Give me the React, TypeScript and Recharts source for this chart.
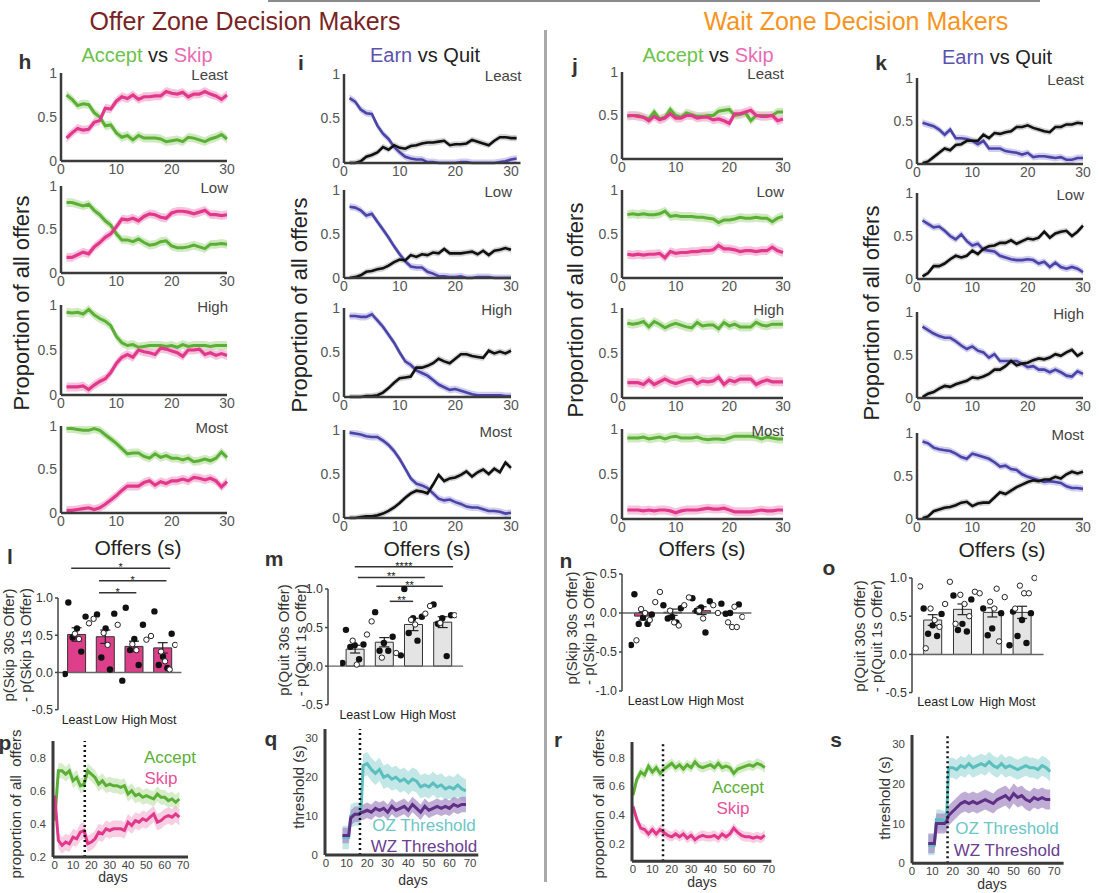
import React from "react";
import {
  ComposedChart,
  Line,
  Area,
  Bar,
  Scatter,
  ErrorBar,
  XAxis,
  YAxis,
  ReferenceLine,
} from "recharts";

const FONT = '"Liberation Sans", Arial, Helvetica, sans-serif';
const AXIS = "#3a3a3a";
const GREEN = "#5aaf35";
const GREEN_BAND = "#c6e4b2";
const PINK = "#e2388c";
const PINK_BAND = "#f5b9d7";
const BLUE = "#4a44a6";
const BLUE_BAND = "#c6c1ea";
const BLACK = "#111111";
const GRAY_BAND = "#c4c4c4";
const TEAL = "#5cbfbf";
const TEAL_BAND = "#a9dbdb";
const PURPLE = "#5f2f86";
const PURPLE_BAND = "#a58ac4";

// ---- offers (s) on the x axis of the small panels
const offers = [1, 2, 3, 4, 5, 6, 7, 8, 9, 10, 11, 12, 13, 14, 15, 16, 17, 18, 19, 20, 21, 22, 23, 24, 25, 26, 27, 28, 29, 30];
const offers31 = [1, 2, 3, 4, 5, 6, 7, 8, 9, 10, 11, 12, 13, 14, 15, 16, 17, 18, 19, 20, 21, 22, 23, 24, 25, 26, 27, 28, 29, 30, 31];

// ---- h: offer zone, accept vs skip
const ozAcceptLeast = [0.75, 0.7, 0.63, 0.65, 0.64, 0.55, 0.5, 0.4, 0.41, 0.32, 0.27, 0.29, 0.24, 0.29, 0.26, 0.26, 0.26, 0.25, 0.22, 0.23, 0.24, 0.22, 0.27, 0.26, 0.24, 0.22, 0.25, 0.27, 0.3, 0.25];
const ozSkipLeast = [0.26, 0.32, 0.37, 0.35, 0.36, 0.44, 0.46, 0.6, 0.59, 0.68, 0.73, 0.71, 0.75, 0.7, 0.73, 0.73, 0.74, 0.74, 0.79, 0.77, 0.76, 0.78, 0.73, 0.76, 0.76, 0.79, 0.76, 0.74, 0.7, 0.75];
const ozAcceptLow = [0.81, 0.81, 0.79, 0.77, 0.79, 0.72, 0.67, 0.6, 0.55, 0.45, 0.38, 0.38, 0.36, 0.39, 0.35, 0.32, 0.33, 0.36, 0.37, 0.31, 0.29, 0.29, 0.3, 0.32, 0.3, 0.28, 0.33, 0.33, 0.34, 0.33];
const ozSkipLow = [0.18, 0.18, 0.21, 0.24, 0.22, 0.3, 0.35, 0.41, 0.45, 0.53, 0.62, 0.61, 0.63, 0.6, 0.65, 0.68, 0.67, 0.64, 0.63, 0.69, 0.71, 0.71, 0.7, 0.68, 0.7, 0.72, 0.67, 0.67, 0.66, 0.67];
const ozAcceptHigh = [0.92, 0.91, 0.92, 0.9, 0.95, 0.89, 0.85, 0.82, 0.77, 0.65, 0.58, 0.55, 0.56, 0.53, 0.54, 0.55, 0.55, 0.55, 0.54, 0.55, 0.53, 0.56, 0.54, 0.55, 0.55, 0.55, 0.54, 0.55, 0.55, 0.55];
const ozSkipHigh = [0.09, 0.09, 0.09, 0.1, 0.06, 0.11, 0.15, 0.18, 0.25, 0.35, 0.42, 0.45, 0.42, 0.5, 0.48, 0.47, 0.45, 0.52, 0.51, 0.49, 0.47, 0.43, 0.5, 0.5, 0.51, 0.45, 0.47, 0.44, 0.46, 0.44];
const ozAcceptMost = [0.97, 0.97, 0.96, 0.95, 0.95, 0.97, 0.95, 0.9, 0.85, 0.8, 0.74, 0.68, 0.69, 0.69, 0.65, 0.63, 0.68, 0.64, 0.66, 0.63, 0.63, 0.61, 0.63, 0.59, 0.6, 0.62, 0.6, 0.63, 0.7, 0.64];
const ozSkipMost = [0.03, 0.03, 0.04, 0.05, 0.06, 0.04, 0.06, 0.1, 0.15, 0.2, 0.26, 0.31, 0.31, 0.31, 0.35, 0.37, 0.32, 0.36, 0.34, 0.37, 0.37, 0.39, 0.37, 0.41, 0.4, 0.38, 0.4, 0.37, 0.3, 0.36];

// ---- i: offer zone, earn vs quit
const ozEarnLeast = [0.73, 0.69, 0.6, 0.56, 0.55, 0.42, 0.33, 0.27, 0.18, 0.12, 0.07, 0.05, 0.04, 0.04, 0.01, 0.01, 0, 0, 0, 0, 0.01, 0.01, 0, 0, 0, 0, 0, 0.01, 0.02, 0.04, 0.05];
const ozQuitLeast = [0, 0, 0.02, 0.07, 0.09, 0.12, 0.18, 0.15, 0.2, 0.17, 0.16, 0.19, 0.2, 0.22, 0.23, 0.23, 0.24, 0.25, 0.2, 0.21, 0.21, 0.22, 0.26, 0.24, 0.22, 0.2, 0.25, 0.29, 0.29, 0.28, 0.28];
const ozEarnLow = [0.81, 0.8, 0.77, 0.71, 0.73, 0.64, 0.55, 0.46, 0.36, 0.27, 0.19, 0.13, 0.12, 0.12, 0.07, 0.05, 0.02, 0.02, 0.01, 0.01, 0.02, 0, 0, 0.01, 0.01, 0.01, 0, 0, 0, 0];
const ozQuitLow = [0, 0.01, 0.03, 0.07, 0.08, 0.1, 0.11, 0.14, 0.18, 0.21, 0.2, 0.26, 0.24, 0.27, 0.26, 0.29, 0.28, 0.33, 0.28, 0.28, 0.28, 0.29, 0.3, 0.27, 0.31, 0.26, 0.31, 0.32, 0.34, 0.32];
const ozEarnHigh = [0.91, 0.91, 0.9, 0.9, 0.93, 0.86, 0.79, 0.7, 0.61, 0.5, 0.4, 0.36, 0.3, 0.27, 0.24, 0.19, 0.14, 0.11, 0.08, 0.09, 0.07, 0.05, 0.03, 0.02, 0.02, 0.02, 0.02, 0.02, 0.01, 0.01];
const ozQuitHigh = [0, 0, 0, 0.01, 0.01, 0.02, 0.05, 0.1, 0.16, 0.21, 0.22, 0.23, 0.33, 0.33, 0.35, 0.38, 0.43, 0.4, 0.38, 0.43, 0.48, 0.48, 0.46, 0.45, 0.44, 0.52, 0.49, 0.51, 0.49, 0.52];
const ozEarnMost = [0.97, 0.96, 0.95, 0.93, 0.92, 0.92, 0.88, 0.83, 0.76, 0.67, 0.56, 0.45, 0.39, 0.37, 0.34, 0.28, 0.22, 0.2, 0.21, 0.18, 0.16, 0.13, 0.12, 0.12, 0.1, 0.08, 0.08, 0.07, 0.05, 0.06];
const ozQuitMost = [0, 0, 0.01, 0.02, 0.02, 0.03, 0.05, 0.08, 0.12, 0.17, 0.23, 0.28, 0.31, 0.3, 0.28, 0.38, 0.49, 0.42, 0.45, 0.46, 0.49, 0.53, 0.47, 0.52, 0.55, 0.5, 0.56, 0.52, 0.63, 0.57];

// ---- j: wait zone, accept vs skip
const wzAcceptLeast = [0.49, 0.5, 0.5, 0.48, 0.46, 0.54, 0.46, 0.48, 0.57, 0.5, 0.48, 0.53, 0.51, 0.49, 0.49, 0.5, 0.5, 0.55, 0.56, 0.57, 0.5, 0.51, 0.53, 0.44, 0.5, 0.5, 0.5, 0.5, 0.54, 0.54];
const wzSkipLeast = [0.5, 0.5, 0.49, 0.48, 0.44, 0.49, 0.45, 0.47, 0.52, 0.47, 0.47, 0.5, 0.5, 0.47, 0.48, 0.48, 0.45, 0.46, 0.44, 0.41, 0.52, 0.52, 0.54, 0.56, 0.5, 0.49, 0.49, 0.5, 0.44, 0.46];
const wzAcceptLow = [0.72, 0.73, 0.72, 0.73, 0.72, 0.72, 0.73, 0.76, 0.7, 0.71, 0.7, 0.7, 0.7, 0.69, 0.69, 0.68, 0.67, 0.63, 0.66, 0.66, 0.67, 0.69, 0.68, 0.68, 0.69, 0.68, 0.68, 0.64, 0.68, 0.7];
const wzSkipLow = [0.27, 0.26, 0.27, 0.26, 0.27, 0.27, 0.28, 0.23, 0.3, 0.28, 0.29, 0.29, 0.3, 0.3, 0.31, 0.31, 0.32, 0.37, 0.33, 0.33, 0.32, 0.3, 0.31, 0.31, 0.3, 0.31, 0.31, 0.35, 0.31, 0.29];
const wzAcceptHigh = [0.83, 0.82, 0.83, 0.85, 0.79, 0.85, 0.82, 0.78, 0.81, 0.83, 0.81, 0.79, 0.78, 0.84, 0.8, 0.81, 0.81, 0.77, 0.84, 0.8, 0.82, 0.79, 0.79, 0.79, 0.84, 0.81, 0.8, 0.82, 0.82, 0.82];
const wzSkipHigh = [0.17, 0.17, 0.17, 0.15, 0.2, 0.15, 0.18, 0.21, 0.18, 0.16, 0.18, 0.2, 0.21, 0.16, 0.19, 0.18, 0.19, 0.23, 0.15, 0.2, 0.18, 0.21, 0.21, 0.21, 0.15, 0.18, 0.2, 0.18, 0.18, 0.18];
const wzAcceptMost = [0.9, 0.9, 0.9, 0.91, 0.89, 0.9, 0.91, 0.89, 0.91, 0.92, 0.9, 0.9, 0.9, 0.91, 0.89, 0.88, 0.89, 0.89, 0.88, 0.9, 0.92, 0.92, 0.92, 0.92, 0.91, 0.89, 0.91, 0.9, 0.89, 0.89];
const wzSkipMost = [0.1, 0.1, 0.1, 0.09, 0.1, 0.09, 0.1, 0.1, 0.09, 0.07, 0.09, 0.1, 0.1, 0.1, 0.11, 0.12, 0.11, 0.11, 0.12, 0.1, 0.08, 0.08, 0.08, 0.08, 0.09, 0.1, 0.09, 0.09, 0.1, 0.1];

// ---- k: wait zone, earn vs quit
const wzEarnLeast = [0.48, 0.46, 0.44, 0.4, 0.34, 0.4, 0.3, 0.3, 0.29, 0.27, 0.23, 0.27, 0.18, 0.18, 0.18, 0.15, 0.14, 0.13, 0.11, 0.13, 0.08, 0.09, 0.09, 0.08, 0.07, 0.08, 0.05, 0.05, 0.07, 0.07];
const wzQuitLeast = [0.01, 0.03, 0.08, 0.13, 0.18, 0.16, 0.22, 0.23, 0.27, 0.27, 0.27, 0.34, 0.3, 0.36, 0.35, 0.37, 0.38, 0.43, 0.43, 0.45, 0.42, 0.4, 0.38, 0.37, 0.43, 0.43, 0.46, 0.46, 0.48, 0.47];
const wzEarnLow = [0.68, 0.64, 0.6, 0.61, 0.56, 0.5, 0.46, 0.52, 0.44, 0.39, 0.41, 0.34, 0.33, 0.32, 0.27, 0.25, 0.23, 0.22, 0.22, 0.23, 0.22, 0.18, 0.2, 0.14, 0.19, 0.14, 0.12, 0.14, 0.12, 0.08];
const wzQuitLow = [0.03, 0.07, 0.15, 0.15, 0.18, 0.23, 0.27, 0.25, 0.27, 0.33, 0.29, 0.35, 0.38, 0.39, 0.42, 0.42, 0.45, 0.41, 0.44, 0.47, 0.46, 0.48, 0.55, 0.48, 0.53, 0.55, 0.56, 0.5, 0.55, 0.62];
const wzEarnHigh = [0.83, 0.79, 0.75, 0.72, 0.7, 0.7, 0.66, 0.61, 0.57, 0.6, 0.55, 0.53, 0.47, 0.51, 0.43, 0.43, 0.43, 0.43, 0.4, 0.36, 0.37, 0.33, 0.33, 0.3, 0.33, 0.3, 0.26, 0.25, 0.31, 0.28];
const wzQuitHigh = [0.01, 0.05, 0.07, 0.11, 0.14, 0.13, 0.16, 0.18, 0.2, 0.24, 0.23, 0.25, 0.28, 0.33, 0.33, 0.37, 0.43, 0.38, 0.4, 0.41, 0.44, 0.46, 0.45, 0.47, 0.51, 0.49, 0.53, 0.56, 0.49, 0.53];
const wzEarnMost = [0.9, 0.88, 0.83, 0.81, 0.8, 0.79, 0.76, 0.72, 0.7, 0.76, 0.74, 0.72, 0.7, 0.66, 0.61, 0.62, 0.58, 0.57, 0.52, 0.49, 0.47, 0.45, 0.43, 0.44, 0.43, 0.42, 0.38, 0.36, 0.36, 0.35];
const wzQuitMost = [0.01, 0.03, 0.09, 0.11, 0.13, 0.14, 0.16, 0.19, 0.2, 0.15, 0.18, 0.19, 0.19, 0.25, 0.31, 0.29, 0.33, 0.37, 0.4, 0.43, 0.45, 0.44, 0.46, 0.46, 0.49, 0.47, 0.52, 0.55, 0.53, 0.55];

// ---- l-o: bar panels
const categories = ["Least", "Low", "High", "Most"];
const lMeans = [0.51, 0.48, 0.35, 0.33];
const lSem = [0.09, 0.09, 0.07, 0.07];
const lFilled = [[0.94, 0.75, 0.59, 0.47, 0.28, -0.02], [0.78, 0.79, 0.59, 0.2, 0.04], [0.87, 0.64, 0.45, 0.3, 0.1, -0.11], [0.82, 0.52, 0.21, 0.1, 0.06]];
const lOpen = [[0.66, 0.52, 0.45], [0.72, 0.64, 0.53, 0.37], [0.44, 0.38, 0.3], [0.49, 0.37, 0.28, 0.15, 0.04]];
const mMeans = [0.22, 0.31, 0.54, 0.57];
const mSem = [0.05, 0.06, 0.08, 0.07];
const mFilled = [[0.47, 0.28, 0.27, 0.25, 0.09, 0.04], [0.7, 0.38, 0.3, 0.2, 0.2], [1.0, 0.64, 0.62, 0.43, 0.33, 0.14], [0.8, 0.66, 0.62, 0.55, 0.13]];
const mOpen = [[0.41, 0.33, 0.02], [0.58, 0.17, 0.11], [0.68, 0.6, 0.54], [0.78, 0.66, 0.56]];
const nMeans = [-0.04, 0.01, 0.03, 0.0];
const nSem = [0.05, 0.04, 0.05, 0.03];
const nFilled = [[0.24, -0.02, -0.06, -0.14, -0.14, -0.41], [0.1, 0.06, -0.05, -0.07, -0.12], [0.19, 0.15, 0.07, 0.03, -0.25], [0.12, 0.11, 0.0, -0.01]];
const nOpen = [[0.14, 0.05, 0.0, -0.09, -0.35], [0.27, 0.1, 0.03, -0.12, -0.16], [0.2, 0.1, 0.03, -0.07], [0.08, 0.0, -0.05, -0.12, -0.18, -0.18]];
const oMeans = [0.45, 0.59, 0.55, 0.55];
const oSem = [0.07, 0.07, 0.06, 0.08];
const oFilled = [[0.6, 0.53, 0.38, 0.27, 0.24], [0.77, 0.72, 0.4, 0.32, 0.3], [0.6, 0.54, 0.34, 0.25], [0.56, 0.54, 0.45, 0.24, 0.15, 0.12]];
const oOpen = [[0.89, 0.66, 0.6, 0.45, 0.36, 0.08], [0.95, 0.82, 0.78, 0.66, 0.5, 0.4], [0.86, 0.8, 0.75, 0.69, 0.6, 0.17], [1.0, 0.9, 0.8, 0.8, 0.6]];

// significance brackets: [from, to, height, stars]
const lSig: [number, number, number, string][] = [[0.3, 3.75, 1.4, "*"], [1.27, 3.62, 1.23, "*"], [1.27, 2.57, 1.07, "*"]];
const mSig: [number, number, number, string][] = [[0.5, 3.87, 1.29, "****"], [0.61, 2.9, 1.15, "**"], [1.24, 3.52, 1.035, "**"], [1.7, 2.5, 0.84, "**"]];

// ---- p-s: across days
const days = [0, 2, 4, 6, 8, 10, 12, 14, 16, 18, 20, 22, 24, 26, 28, 30, 32, 34, 36, 38, 40, 42, 44, 46, 48, 50, 52, 54, 56, 58, 60, 62, 64, 66, 68];
const pAccept = [0.42, 0.72, 0.72, 0.7, 0.72, 0.66, 0.68, 0.63, 0.64, 0.72, 0.7, 0.68, 0.64, 0.66, 0.63, 0.64, 0.63, 0.63, 0.62, 0.63, 0.58, 0.6, 0.57, 0.58, 0.56, 0.57, 0.56, 0.55, 0.58, 0.56, 0.56, 0.54, 0.55, 0.53, 0.55];
const pSkip = [0.57, 0.3, 0.27, 0.29, 0.28, 0.32, 0.31, 0.35, 0.36, 0.28, 0.29, 0.31, 0.35, 0.34, 0.37, 0.36, 0.37, 0.37, 0.37, 0.36, 0.41, 0.39, 0.42, 0.41, 0.43, 0.42, 0.44, 0.46, 0.41, 0.42, 0.44, 0.45, 0.44, 0.46, 0.44];
const rAccept = [0.54, 0.65, 0.7, 0.68, 0.74, 0.7, 0.73, 0.69, 0.72, 0.74, 0.76, 0.73, 0.75, 0.72, 0.75, 0.73, 0.77, 0.74, 0.73, 0.74, 0.75, 0.73, 0.76, 0.73, 0.74, 0.73, 0.69, 0.72, 0.73, 0.74, 0.75, 0.74, 0.76, 0.75, 0.73];
const rSkip = [0.46, 0.37, 0.31, 0.3, 0.27, 0.3, 0.27, 0.3, 0.28, 0.26, 0.25, 0.27, 0.25, 0.27, 0.24, 0.26, 0.23, 0.25, 0.26, 0.25, 0.25, 0.26, 0.24, 0.27, 0.25, 0.27, 0.31, 0.28, 0.26, 0.25, 0.25, 0.24, 0.25, 0.24, 0.26];
const thrDays = [8, 10, 11, 12, 14, 16, 17, 18, 20, 22, 24, 26, 28, 30, 32, 34, 36, 38, 40, 42, 44, 46, 48, 50, 52, 54, 56, 58, 60, 62, 64, 66, 68];
const qOZ = [4.5, 4.5, 4.5, 10, 10.5, 10.5, 11, 23, 23.5, 22, 21, 22, 20, 20.5, 19.5, 20, 19, 19.5, 18.5, 19.5, 19, 17.5, 18, 17.5, 18.5, 17.5, 18, 17, 17.5, 17, 18, 17, 16.5];
const qWZ = [5, 5, 5, 9.5, 10.5, 10.5, 11, 11, 11.5, 11, 12, 11.5, 12, 11, 12.5, 11.5, 12, 12.5, 11.5, 13, 12, 11, 12.5, 11.5, 12, 12.5, 12, 12.5, 12, 13, 12.5, 13, 13];
const sOZ = [4.5, 4.5, 4.5, 11, 11, 10.5, 11, 24, 24, 23.5, 24.5, 24, 25, 24, 24.5, 25, 24.5, 25.5, 24.5, 24, 25, 24, 24.5, 24, 23.5, 24, 24.5, 24, 24, 23.5, 24.5, 24, 23];
const sWZ = [5, 5, 5, 10, 10, 10, 10.5, 12, 13, 14, 15, 15.5, 15, 15.5, 15, 15.5, 16, 15.5, 15, 16, 16.5, 17, 16, 17.5, 16.5, 17, 16, 15.5, 16.5, 16, 16.5, 16, 16];

const clamp = (v: number, lo: number, hi: number) => Math.min(hi, Math.max(lo, v));

function Txt({ x, y, size, color = "#222", bold = false, rotate = false, children }: any) {
  return (
    <div
      style={{
        position: "absolute",
        left: x,
        top: y,
        transform: `translate(-50%, -50%)${rotate ? " rotate(-90deg)" : ""}`,
        fontSize: size,
        color,
        fontWeight: bold ? 700 : 400,
        whiteSpace: "pre",
        lineHeight: 1,
      }}
    >
      {children}
    </div>
  );
}

type OfferSpec = {
  left: number;
  top: number;
  width: number;
  height: number;
  xMax: number;
  t: number[];
  a: number[];
  b: number[];
  kind: "as" | "eq";
  label: string;
};

function OfferPanel({ p }: { p: OfferSpec }) {
  const ML = 40, MT = 14, MR = 16, MB = 22;
  const as = p.kind === "as";
  const ea = as ? 0.05 : 0.04;
  const eb = as ? 0.05 : 0.035;
  const rows = p.t.map((t, i) => ({
    t,
    a: p.a[i],
    b: p.b[i],
    aBand: [clamp(p.a[i] - ea, 0, 1), clamp(p.a[i] + ea, 0, 1)],
    bBand: [clamp(p.b[i] - eb, 0, 1), clamp(p.b[i] + eb, 0, 1)],
  }));
  const W = p.width + ML + MR;
  const H = p.height + MT + MB;
  return (
    <div style={{ position: "absolute", left: p.left - ML, top: p.top - MT, width: W, height: H }}>
      <ComposedChart width={W} height={H} data={rows} margin={{ top: MT, right: MR, left: 0, bottom: 0 }}>
        <XAxis
          dataKey="t"
          type="number"
          domain={[0, p.xMax]}
          ticks={[0, 10, 20, 30]}
          interval={0}
          height={MB}
          tickSize={0}
          tickMargin={3}
          tickLine={false}
          axisLine={{ stroke: AXIS, strokeWidth: 2.5 }}
          tick={{ fontSize: 14, fill: "#555" }}
        />
        <YAxis
          type="number"
          domain={[0, 1]}
          ticks={[0, 0.5, 1]}
          interval={0}
          width={ML}
          tickSize={0}
          tickMargin={4}
          tickLine={false}
          axisLine={{ stroke: AXIS, strokeWidth: 2.5 }}
          tick={{ fontSize: 14, fill: "#555" }}
        />
        <Area type="linear" dataKey="aBand" stroke="none" fill={as ? GREEN_BAND : BLUE_BAND} fillOpacity={0.8} isAnimationActive={false} />
        <Line type="linear" dataKey="a" stroke={as ? GREEN : BLUE} strokeWidth={as ? 3 : 2.6} dot={false} isAnimationActive={false} />
        <Area type="linear" dataKey="bBand" stroke="none" fill={as ? PINK_BAND : GRAY_BAND} fillOpacity={as ? 0.85 : 0.75} isAnimationActive={false} />
        <Line type="linear" dataKey="b" stroke={as ? PINK : BLACK} strokeWidth={as ? 3.2 : 2.6} dot={false} isAnimationActive={false} />
      </ComposedChart>
      <div style={{ position: "absolute", right: MR - 1, top: MT - 6, fontSize: 15, color: "#444", lineHeight: 1 }}>{p.label}</div>
    </div>
  );
}

type TSSeries = { v: number[]; err: number; color: string; band: string };
type TSSpec = {
  left: number;
  top: number;
  width: number;
  height: number;
  xDomain: [number, number];
  yDomain: [number, number];
  yTicks: number[];
  decimals: number;
  t: number[];
  series: TSSeries[];
  vline: number;
};

function DaysPanel({ p }: { p: TSSpec }) {
  const ML = 44, MT = 6, MR = 8, MB = 20;
  const rows = p.t.map((t, i) => {
    const r: any = { t };
    p.series.forEach((s, k) => {
      r["v" + k] = s.v[i];
      r["b" + k] = [s.v[i] - s.err, s.v[i] + s.err];
    });
    return r;
  });
  const W = p.width + ML + MR;
  const H = p.height + MT + MB;
  return (
    <div style={{ position: "absolute", left: p.left - ML, top: p.top - MT, width: W, height: H }}>
      <ComposedChart width={W} height={H} data={rows} margin={{ top: MT, right: MR, left: 0, bottom: 0 }}>
        <XAxis
          dataKey="t"
          type="number"
          domain={p.xDomain}
          ticks={[0, 10, 20, 30, 40, 50, 60, 70]}
          interval={0}
          height={MB}
          tickSize={0}
          tickMargin={4}
          tickLine={false}
          axisLine={{ stroke: AXIS, strokeWidth: 3 }}
          tick={{ fontSize: 11.5, fill: "#444" }}
        />
        <YAxis
          type="number"
          domain={p.yDomain}
          ticks={p.yTicks}
          interval={0}
          width={ML}
          tickSize={0}
          tickMargin={7}
          tickLine={false}
          axisLine={{ stroke: AXIS, strokeWidth: 3 }}
          tick={{ fontSize: 11.5, fill: "#444" }}
          tickFormatter={(v: number) => v.toFixed(p.decimals)}
        />
        {p.series.map((s, k) => (
          <Area key={"b" + k} type="linear" dataKey={"b" + k} stroke="none" fill={s.band} fillOpacity={0.7} isAnimationActive={false} />
        ))}
        {p.series.map((s, k) => (
          <Line key={"v" + k} type="linear" dataKey={"v" + k} stroke={s.color} strokeWidth={3} dot={false} isAnimationActive={false} />
        ))}
        <ReferenceLine x={p.vline} stroke="#111" strokeWidth={2.5} strokeDasharray="2 3" />
      </ComposedChart>
    </div>
  );
}

type BarSpec = {
  left: number;
  top: number;
  width: number;
  height: number;
  domain: [number, number];
  ticks: number[];
  padL: number;
  padR: number;
  means: number[];
  sem: number[];
  filled: number[][];
  open: number[][];
  fill: string;
  sig: [number, number, number, string][];
};

const JITTER = [-0.3, 0.3, 0, -0.15, 0.15, -0.42, 0.42, -0.07, 0.07, 0.23, -0.23, 0.36];

function BarPanel({ p }: { p: BarSpec }) {
  const ML = 48, MT = 44, MR = 10, MB = 22;
  const rows = categories.map((c, i) => ({ c, v: p.means[i], e: p.sem[i] }));
  const filledPts: { x: number; y: number }[] = [];
  const openPts: { x: number; y: number }[] = [];
  categories.forEach((_, i) => {
    let k = 0;
    p.filled[i].forEach((y) => filledPts.push({ x: i + 0.5 + JITTER[k++], y }));
    p.open[i].forEach((y) => openPts.push({ x: i + 0.5 + JITTER[k++], y }));
  });
  const W = p.width + ML + MR;
  const H = p.height + MT + MB;
  return (
    <div style={{ position: "absolute", left: p.left - ML, top: p.top - MT, width: W, height: H }}>
      <ComposedChart width={W} height={H} data={rows} margin={{ top: MT, right: MR, left: 0, bottom: 0 }}>
        <XAxis
          xAxisId="c"
          dataKey="c"
          type="category"
          padding={{ left: p.padL, right: p.padR }}
          interval={0}
          height={MB}
          axisLine={false}
          tickLine={false}
          tickSize={0}
          tickMargin={5}
          tick={{ fontSize: 12.5, fill: "#222" }}
        />
        <XAxis xAxisId="n" dataKey="x" type="number" domain={[0, 4]} padding={{ left: p.padL, right: p.padR }} hide allowDataOverflow />
        <YAxis
          type="number"
          domain={p.domain}
          ticks={p.ticks}
          interval={0}
          width={ML}
          tickSize={3}
          tickMargin={2}
          axisLine={{ stroke: "#444", strokeWidth: 1.5 }}
          tickLine={{ stroke: "#444", strokeWidth: 1.5 }}
          tick={{ fontSize: 12.5, fill: "#333" }}
          tickFormatter={(v: number) => v.toFixed(1)}
        />
        <ReferenceLine xAxisId="c" y={0} stroke="#666" strokeWidth={1.5} />
        <Bar xAxisId="c" dataKey="v" fill={p.fill} stroke="#333" strokeWidth={1} barSize={18} isAnimationActive={false}>
          <ErrorBar dataKey="e" width={5} stroke="#222" strokeWidth={1.2} direction="y" />
        </Bar>
        <Scatter
          xAxisId="n"
          data={filledPts}
          dataKey="y"
          isAnimationActive={false}
          shape={(s: any) => <circle cx={s.cx} cy={s.cy} r={3.2} fill="#111" />}
        />
        <Scatter
          xAxisId="n"
          data={openPts}
          dataKey="y"
          isAnimationActive={false}
          shape={(s: any) => <circle cx={s.cx} cy={s.cy} r={2.7} fill="#fff" stroke="#222" strokeWidth={1} />}
        />
        {p.sig.map(([x1, x2, y, stars], k) => (
          <ReferenceLine
            key={k}
            xAxisId="n"
            segment={[{ x: x1, y }, { x: x2, y }]}
            stroke="#333"
            strokeWidth={1.5}
            ifOverflow="visible"
            label={{ value: stars, position: "top", fill: "#222", fontSize: 11, offset: -3 }}
          />
        ))}
      </ComposedChart>
    </div>
  );
}

const offerPanels: OfferSpec[] = [
  { left: 61, top: 73, width: 166, height: 88, xMax: 30, t: offers, a: ozAcceptLeast, b: ozSkipLeast, kind: "as", label: "Least" },
  { left: 61, top: 186, width: 166, height: 87, xMax: 30, t: offers, a: ozAcceptLow, b: ozSkipLow, kind: "as", label: "Low" },
  { left: 61, top: 305, width: 166, height: 90, xMax: 30, t: offers, a: ozAcceptHigh, b: ozSkipHigh, kind: "as", label: "High" },
  { left: 61, top: 426, width: 166, height: 87, xMax: 30, t: offers, a: ozAcceptMost, b: ozSkipMost, kind: "as", label: "Most" },
  { left: 344, top: 74, width: 176.5, height: 89, xMax: 31.7, t: offers31, a: ozEarnLeast, b: ozQuitLeast, kind: "eq", label: "Least" },
  { left: 344, top: 190, width: 167, height: 88, xMax: 30, t: offers, a: ozEarnLow, b: ozQuitLow, kind: "eq", label: "Low" },
  { left: 344, top: 308, width: 167, height: 89, xMax: 30, t: offers, a: ozEarnHigh, b: ozQuitHigh, kind: "eq", label: "High" },
  { left: 344, top: 430, width: 167, height: 88, xMax: 30, t: offers, a: ozEarnMost, b: ozQuitMost, kind: "eq", label: "Most" },
  { left: 622, top: 72, width: 161, height: 87, xMax: 30, t: offers, a: wzAcceptLeast, b: wzSkipLeast, kind: "as", label: "Least" },
  { left: 622, top: 190, width: 161, height: 88, xMax: 30, t: offers, a: wzAcceptLow, b: wzSkipLow, kind: "as", label: "Low" },
  { left: 622, top: 308, width: 161, height: 90, xMax: 30, t: offers, a: wzAcceptHigh, b: wzSkipHigh, kind: "as", label: "High" },
  { left: 622, top: 429, width: 161, height: 90, xMax: 30, t: offers, a: wzAcceptMost, b: wzSkipMost, kind: "as", label: "Most" },
  { left: 917, top: 78, width: 166, height: 86, xMax: 30, t: offers, a: wzEarnLeast, b: wzQuitLeast, kind: "eq", label: "Least" },
  { left: 917, top: 193, width: 166, height: 86, xMax: 30, t: offers, a: wzEarnLow, b: wzQuitLow, kind: "eq", label: "Low" },
  { left: 917, top: 312, width: 166, height: 86, xMax: 30, t: offers, a: wzEarnHigh, b: wzQuitHigh, kind: "eq", label: "High" },
  { left: 917, top: 433, width: 166, height: 86, xMax: 30, t: offers, a: wzEarnMost, b: wzQuitMost, kind: "eq", label: "Most" },
];

const barPanels: BarSpec[] = [
  { left: 58.3, top: 598.3, width: 123.4, height: 111.7, domain: [-0.5, 1], ticks: [-0.5, 0, 0.5, 1], padL: 4.6, padR: 4, means: lMeans, sem: lSem, filled: lFilled, open: lOpen, fill: "#de3f8a", sig: lSig },
  { left: 328.3, top: 589.3, width: 135, height: 115.7, domain: [-0.5, 1], ticks: [-0.5, 0, 0.5, 1], padL: 12.1, padR: 6.1, means: mMeans, sem: mSem, filled: mFilled, open: mOpen, fill: "#e4e4e4", sig: mSig },
  { left: 622.3, top: 574, width: 129.4, height: 117, domain: [-1, 0.5], ticks: [-1, -0.5, 0, 0.5], padL: 6.6, padR: 6.8, means: nMeans, sem: nSem, filled: nFilled, open: nOpen, fill: "#de3f8a", sig: [] },
  { left: 911.7, top: 577.7, width: 131.6, height: 114.6, domain: [-0.5, 1], ticks: [-0.5, 0, 0.5, 1], padL: 5.7, padR: 6.7, means: oMeans, sem: oSem, filled: oFilled, open: oOpen, fill: "#e4e4e4", sig: [] },
];

const daysPanels: TSSpec[] = [
  {
    left: 53.3, top: 740.7, width: 135, height: 116, xDomain: [-0.93, 72.7], yDomain: [0.2, 0.9], yTicks: [0.2, 0.4, 0.6, 0.8], decimals: 1, t: days,
    series: [{ v: pAccept, err: 0.045, color: GREEN, band: GREEN_BAND }, { v: pSkip, err: 0.05, color: PINK, band: PINK_BAND }], vline: 16.4,
  },
  {
    left: 325, top: 729, width: 153.3, height: 126, xDomain: [-0.5, 74], yDomain: [0, 32.4], yTicks: [0, 10, 20, 30], decimals: 0, t: thrDays,
    series: [{ v: qOZ, err: 3, color: TEAL, band: TEAL_BAND }, { v: qWZ, err: 2, color: PURPLE, band: PURPLE_BAND }], vline: 16.5,
  },
  {
    left: 632.3, top: 741.7, width: 139.4, height: 119.3, xDomain: [-0.5, 71.4], yDomain: [0.08, 0.908], yTicks: [0.2, 0.4, 0.6, 0.8], decimals: 1, t: days,
    series: [{ v: rAccept, err: 0.035, color: GREEN, band: GREEN_BAND }, { v: rSkip, err: 0.035, color: PINK, band: PINK_BAND }], vline: 15.5,
  },
  {
    left: 911.7, top: 735, width: 151.6, height: 128.3, xDomain: [0, 74.6], yDomain: [0, 32.2], yTicks: [0, 10, 20, 30], decimals: 0, t: thrDays,
    series: [{ v: sOZ, err: 2.5, color: TEAL, band: TEAL_BAND }, { v: sWZ, err: 2.5, color: PURPLE, band: PURPLE_BAND }], vline: 17.5,
  },
];

export default function App() {
  return (
    <div style={{ position: "absolute", left: 0, top: 0, width: 1099, height: 893, background: "#fff", fontFamily: FONT, overflow: "hidden" }}>
      <div style={{ position: "absolute", left: 268, top: 0, width: 772, height: 1.5, background: "#8a8a8a" }} />
      <div style={{ position: "absolute", left: 544, top: 30, width: 3, height: 852, background: "#a9a9a9" }} />

      <Txt x={245} y={21} size={25} color="#7a2323">Offer Zone Decision Makers</Txt>
      <Txt x={856} y={21} size={25} color="#f7941d">Wait Zone Decision Makers</Txt>

      <Txt x={147} y={55} size={20}>
        <span style={{ color: "#6cc24a" }}>Accept</span> vs <span style={{ color: "#e86cb4" }}>Skip</span>
      </Txt>
      <Txt x={425} y={55} size={20}>
        <span style={{ color: "#5b52b0" }}>Earn</span> vs Quit
      </Txt>
      <Txt x={708} y={55} size={20}>
        <span style={{ color: "#6cc24a" }}>Accept</span> vs <span style={{ color: "#e86cb4" }}>Skip</span>
      </Txt>
      <Txt x={997} y={57} size={20}>
        <span style={{ color: "#5b52b0" }}>Earn</span> vs Quit
      </Txt>

      <Txt x={25} y={61} size={21} bold color="#333">h</Txt>
      <Txt x={301} y={62} size={21} bold color="#333">i</Txt>
      <Txt x={575} y={65} size={21} bold color="#333">j</Txt>
      <Txt x={881} y={62} size={21} bold color="#333">k</Txt>
      <Txt x={10} y={556} size={21} bold color="#333">l</Txt>
      <Txt x={274} y={558} size={21} bold color="#333">m</Txt>
      <Txt x={566} y={560} size={21} bold color="#333">n</Txt>
      <Txt x={829} y={567} size={21} bold color="#333">o</Txt>
      <Txt x={5} y={742} size={21} bold color="#333">p</Txt>
      <Txt x={271} y={738} size={21} bold color="#333">q</Txt>
      <Txt x={558} y={739} size={21} bold color="#333">r</Txt>
      <Txt x={836} y={739} size={21} bold color="#333">s</Txt>

      {offerPanels.map((p, k) => (
        <OfferPanel key={k} p={p} />
      ))}

      <Txt x={22} y={303} size={22} rotate>Proportion of all offers</Txt>
      <Txt x={300} y={305} size={22} rotate>Proportion of all offers</Txt>
      <Txt x={576} y={310} size={22} rotate>Proportion of all offers</Txt>
      <Txt x={872} y={313} size={22} rotate>Proportion of all offers</Txt>
      <Txt x={138} y={547} size={21}>Offers (s)</Txt>
      <Txt x={427} y={547.5} size={21}>Offers (s)</Txt>
      <Txt x={702} y={548} size={21}>Offers (s)</Txt>
      <Txt x={1002} y={549} size={21}>Offers (s)</Txt>

      {barPanels.map((p, k) => (
        <BarPanel key={k} p={p} />
      ))}
      <Txt x={8} y={645} size={15} color="#333" rotate>p(Skip 30s Offer)</Txt>
      <Txt x={25} y={645} size={15} color="#333" rotate>- p(Skip 1s Offer)</Txt>
      <Txt x={283} y={640} size={15} color="#333" rotate>p(Quit 30s Offer)</Txt>
      <Txt x={300} y={640} size={15} color="#333" rotate>- p(Quit 1s Offer)</Txt>
      <Txt x={571} y={628} size={15} color="#333" rotate>p(Skip 30s Offer)</Txt>
      <Txt x={587.5} y={628} size={15} color="#333" rotate>- p(Skip 1s Offer)</Txt>
      <Txt x={859} y={636} size={15} color="#333" rotate>p(Quit 30s Offer)</Txt>
      <Txt x={876} y={636} size={15} color="#333" rotate>- p(Quit 1s Offer)</Txt>

      {daysPanels.map((p, k) => (
        <DaysPanel key={k} p={p} />
      ))}
      <Txt x={15} y={804} size={15} color="#333" rotate>proportion of all  offers</Txt>
      <Txt x={113} y={877} size={14} color="#333">days</Txt>
      <Txt x={170} y={757} size={17} color={GREEN}>Accept</Txt>
      <Txt x={161} y={778} size={17} color="#e8509a">Skip</Txt>

      <Txt x={298} y={787} size={15} color="#333" rotate>threshold (s)</Txt>
      <Txt x={413} y={880} size={14} color="#333">days</Txt>
      <Txt x={424} y={825} size={17} color="#6cc6c6">OZ Threshold</Txt>
      <Txt x={424} y={846} size={17} color="#6b3d92">WZ Threshold</Txt>

      <Txt x={598} y={804} size={15} color="#333" rotate>proportion of all  offers</Txt>
      <Txt x={702} y={882} size={14} color="#333">days</Txt>
      <Txt x={738} y={787} size={17} color={GREEN}>Accept</Txt>
      <Txt x={733} y={808} size={17} color="#e8509a">Skip</Txt>

      <Txt x={884} y={798} size={15} color="#333" rotate>threshold (s)</Txt>
      <Txt x={992} y={884} size={14} color="#333">days</Txt>
      <Txt x={1007} y={828} size={17} color="#6cc6c6">OZ Threshold</Txt>
      <Txt x={1007} y={850} size={17} color="#6b3d92">WZ Threshold</Txt>
    </div>
  );
}
